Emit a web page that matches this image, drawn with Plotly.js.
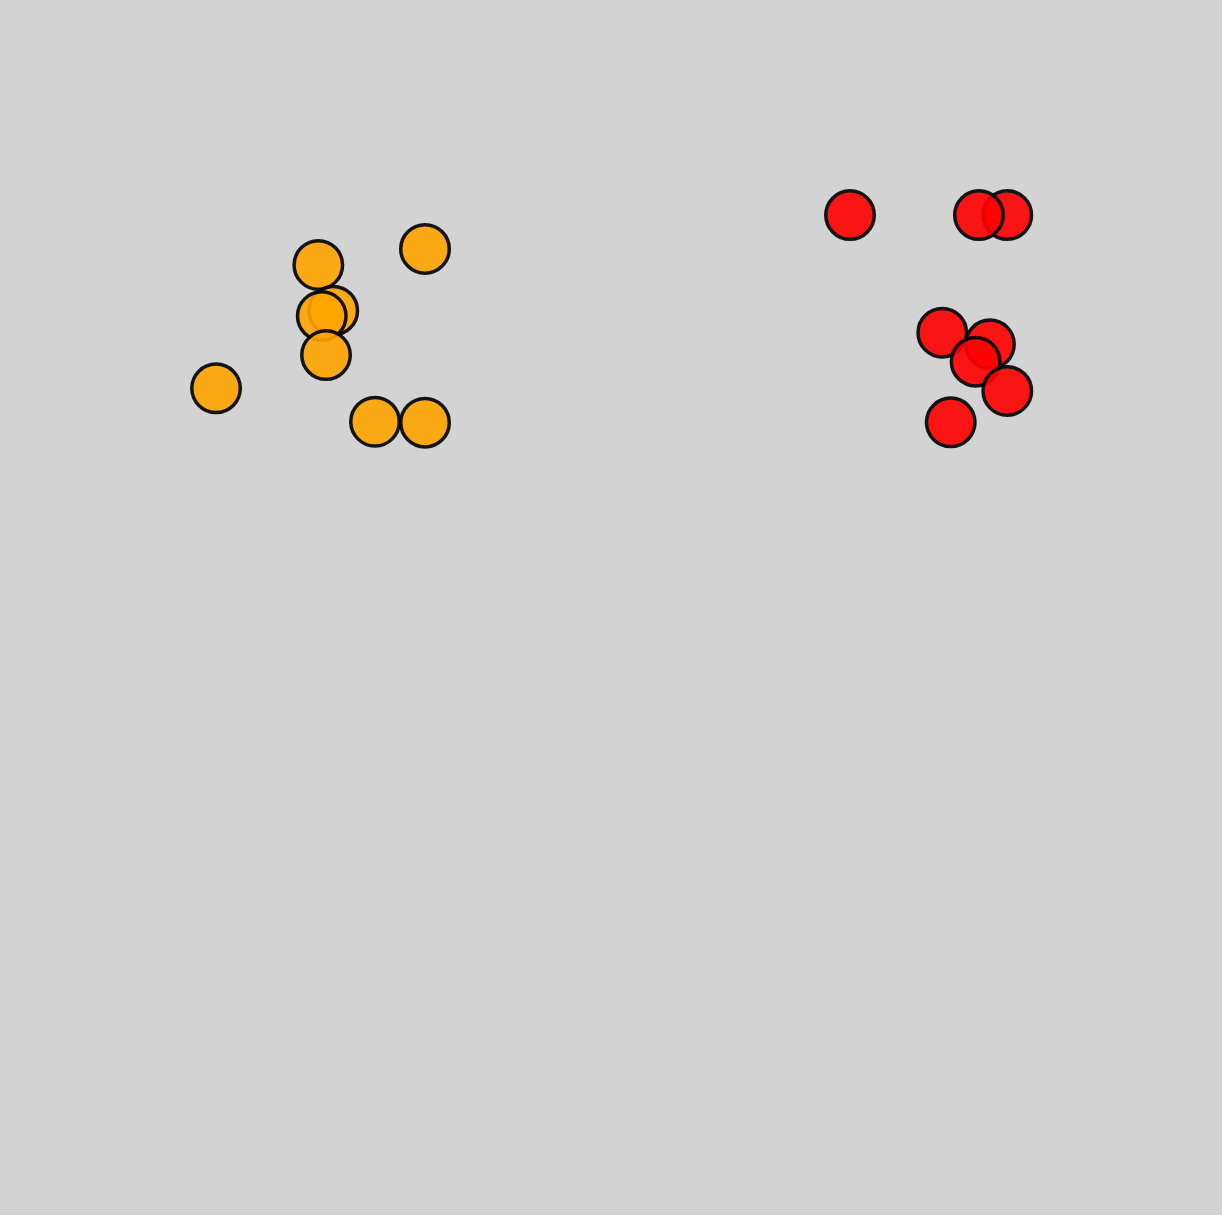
<!DOCTYPE html>
<html>
<head>
<meta charset="utf-8">
<script src="https://cdn.plot.ly/plotly-3.0.1.min.js"></script>
<style>
  html, body { margin: 0; padding: 0; background: #d3d3d3; }
  #chart { width: 1222px; height: 1215px; }
</style>
</head>
<body>
<div id="chart"></div>
<script>
// Orange group
const orangeX = [26.05, 34.78, 27.27, 26.33, 26.68, 17.68, 30.69, 34.78];
const orangeY = [78.19, 79.51, 74.43, 73.99, 70.78, 68.04, 65.29, 65.21];
// Red group
const redX = [69.56, 82.43, 80.11, 81.01, 77.11, 79.84, 82.43, 77.80];
const redY = [82.30, 82.30, 82.30, 71.66, 72.62, 70.23, 67.82, 65.24];

const markerBase = {
  size: 48.5,
  opacity: 0.9,
  line: { color: '#000000', width: 3.5 }
};

const traces = [
  {
    x: orangeX, y: orangeY, type: 'scatter', mode: 'markers', name: 'orange',
    marker: Object.assign({}, markerBase, { color: 'orange' }),
    hoverinfo: 'none'
  },
  {
    x: redX, y: redY, type: 'scatter', mode: 'markers', name: 'red',
    marker: Object.assign({}, markerBase, { color: 'red' }),
    hoverinfo: 'none'
  }
];

const layout = {
  width: 1222,
  height: 1215,
  margin: { l: 0, r: 0, t: 0, b: 0, pad: 0 },
  paper_bgcolor: '#d3d3d3',
  plot_bgcolor: '#d3d3d3',
  showlegend: false,
  xaxis: { range: [0, 100], visible: false, fixedrange: true },
  yaxis: { range: [0, 100], visible: false, fixedrange: true }
};

Plotly.newPlot('chart', traces, layout, { displayModeBar: false, staticPlot: true });
</script>
</body>
</html>
